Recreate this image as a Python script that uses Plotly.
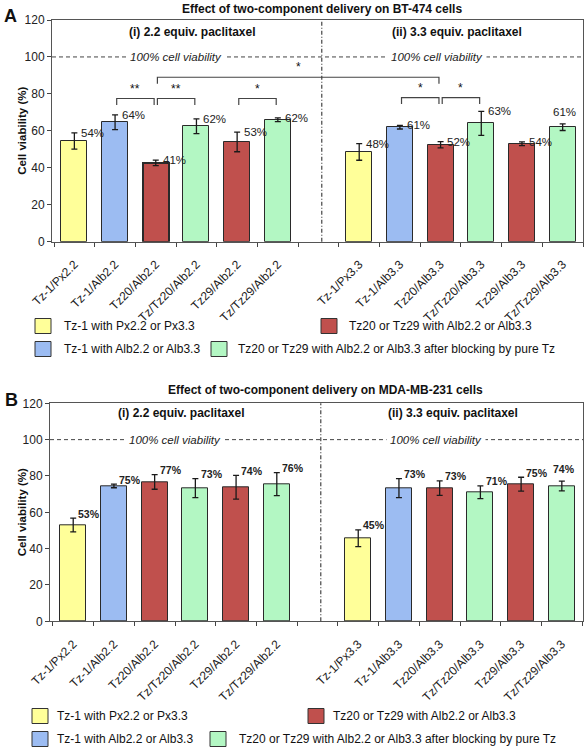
import plotly.graph_objects as go

# ---------------- data ----------------
categories = ["Tz-1/Px2.2", "Tz-1/Alb2.2", "Tz20/Alb2.2", "Tz/Tz20/Alb2.2", "Tz29/Alb2.2", "Tz/Tz29/Alb2.2",
              "Tz-1/Px3.3", "Tz-1/Alb3.3", "Tz20/Alb3.3", "Tz/Tz20/Alb3.3", "Tz29/Alb3.3", "Tz/Tz29/Alb3.3"]
group_of_bar = [0, 1, 2, 3, 2, 3, 0, 1, 2, 3, 2, 3]

values_A = [54.5, 64.7, 42.7, 62.5, 54.0, 66.0, 48.6, 62.0, 52.5, 64.0, 53.0, 62.0]
errors_A = [4.4, 4.0, 1.5, 4.0, 5.3, 1.0, 4.5, 1.0, 1.7, 6.5, 1.0, 1.8]
labels_A = ["54%", "64%", "41%", "62%", "53%", "62%", "48%", "61%", "52%", "63%", "54%", "61%"]

values_B = [53.0, 74.5, 76.7, 73.3, 73.8, 75.5, 45.7, 73.3, 73.3, 71.0, 75.5, 74.5]
errors_B = [3.8, 1.0, 4.0, 5.2, 6.5, 6.3, 4.6, 5.2, 4.0, 3.5, 3.8, 2.7]
labels_B = ["53%", "75%", "77%", "73%", "74%", "76%", "45%", "73%", "73%", "71%", "75%", "74%"]

# significance comparisons (bar index i, bar index j, bracket level, mark)
sig_A = [(1, 2, 77.5, "**"), (2, 3, 77.5, "**"), (4, 5, 77.5, "*"),
         (2, 8, 89.0, "*"), (7, 8, 78.0, "*"), (8, 9, 78.0, "*")]

legend_names = ["Tz-1 with Px2.2 or Px3.3", "Tz-1 with Alb2.2 or Alb3.3",
                "Tz20 or Tz29 with Alb2.2 or Alb3.3",
                "Tz20 or Tz29 with Alb2.2 or Alb3.3 after blocking by pure Tz"]
group_colors = ["#FFFF99", "#9CBCF2", "#C0504D", "#B3F7C3"]

y_ticks = [0, 20, 40, 60, 80, 100, 120]

title_A = "Effect of two-component delivery on BT-474 cells"
title_B = "Effect of two-component delivery on MDA-MB-231 cells"
sub_left = "(i) 2.2 equiv. paclitaxel"
sub_right = "(ii) 3.3 equiv. paclitaxel"
ref_text = "100% cell viability"

# ---------------- helpers ----------------
W, H = 586, 750
FONT = "Liberation Sans, Arial, sans-serif"


def px(x):
    return x / W


def py(y):
    return 1 - y / H


slots = [i if i < 6 else i + 1 for i in range(len(categories))]
colors = [group_colors[g] for g in group_of_bar]

fig = go.Figure()

panels = [
    dict(vals=values_A, errs=errors_A, labels=labels_A, xa="x", ya="y",
         xdom=[px(52), px(583)], ydom=[py(241.7), py(20)], xr=[-0.55, 12.5],
         lw=[1, 1, 2, 1, 1, 1, 1, 1, 1, 1, 1, 1], lblfont=dict(size=11.5, color="#222"),
         lbl_dx=0.12, lbl_dy=0.0, title=title_A, title_xy=(322, 9), letter="A", letter_xy=(10, 16),
         sub_y=113.5, sub_x=(2.9, 9.4), legend_rows=(326, 349),
         leg_box=[(35, 0), (35, 1), (321, 0), (211, 1)], leg_text=[62, 62, 347, 236]),
    dict(vals=values_B, errs=errors_B, labels=labels_B, xa="x2", ya="y2",
         xdom=[px(50), px(583)], ydom=[py(621.3), py(403.3)], xr=[-0.57, 12.52],
         lw=[1] * 12, lblfont=dict(size=10.5, color="#222", weight="bold"),
         lbl_dx=0.08, lbl_dy=2.5, title=title_B, title_xy=(326, 390), letter="B", letter_xy=(11, 400),
         sub_y=114.5, sub_x=(2.65, 9.33), legend_rows=(716, 739),
         leg_box=[(32, 0), (32, 1), (308, 0), (210, 1)], leg_text=[55, 55, 331, 237]),
]

annotations = []
shapes = []
layout_axes = {}
last = len(categories) - 1

for k, p in enumerate(panels):
    fig.add_trace(go.Bar(
        x=slots, y=p["vals"], width=0.64, xaxis=p["xa"], yaxis=p["ya"],
        marker=dict(color=colors, line=dict(color="#2a2a2a", width=p["lw"])),
        error_y=dict(type="data", array=p["errs"], color="#1a1a1a", thickness=1.3, width=3),
        showlegend=False, hoverinfo="skip"))

    xname = "xaxis" if k == 0 else "xaxis2"
    yname = "yaxis" if k == 0 else "yaxis2"
    layout_axes[xname] = dict(
        domain=p["xdom"], range=p["xr"], anchor=p["ya"], automargin=False,
        tickmode="array", tickvals=slots, ticktext=categories, tickangle=-45,
        ticks="", ticklabelstandoff=10, tickfont=dict(size=12, color="#222", family=FONT),
        showline=True, linecolor="#555", linewidth=1, mirror=True,
        showgrid=False, zeroline=False, fixedrange=True,
        minor=dict(tickmode="array", tickvals=[b - 0.5 for b in range(14)],
                   ticks="outside", ticklen=4, tickcolor="#444", tickwidth=1),
    )
    layout_axes[yname] = dict(
        domain=p["ydom"], range=[0, 120], anchor=p["xa"], automargin=False,
        tickmode="array", tickvals=y_ticks, ticks="outside", ticklen=4, tickcolor="#444",
        tickfont=dict(size=12, color="#222", family=FONT),
        showline=True, linecolor="#555", linewidth=1, mirror=True,
        showgrid=False, zeroline=False, fixedrange=True,
    )

    # value labels (the last bar's label sits above its error bar, as in the original)
    for i, (v, e, t) in enumerate(zip(p["vals"], p["errs"], p["labels"])):
        if i == last:
            ann = dict(x=slots[i] + 0.05, y=v + e + 2, xanchor="center", yanchor="bottom")
        else:
            ann = dict(x=slots[i] + p["lbl_dx"], y=v + e + p["lbl_dy"], xanchor="left", yanchor="middle")
        annotations.append(dict(xref=p["xa"], yref=p["ya"], text=t, showarrow=False,
                                font=dict(family=FONT, **p["lblfont"]), **ann))

    # 100% reference line
    shapes.append(dict(type="line", xref=p["xa"] + " domain", yref=p["ya"], x0=0, x1=1, y0=100, y1=100,
                       line=dict(color="#444", width=1, dash="4px,3px")))
    # divider
    shapes.append(dict(type="line", xref=p["xa"], yref=p["ya"] + " domain", x0=6.08, x1=6.08, y0=0, y1=1,
                       line=dict(color="#444", width=1.2, dash="4px,2px,1px,2px")))
    for xs in (2.5, 8.9):
        annotations.append(dict(x=xs, y=100, xref=p["xa"], yref=p["ya"], text="<i>" + ref_text + "</i>",
                                showarrow=False, bgcolor="white", borderpad=3,
                                xanchor="center", yanchor="middle",
                                font=dict(family=FONT, size=11.5, color="#222")))
    # subtitles
    for xs, t in zip(p["sub_x"], (sub_left, sub_right)):
        annotations.append(dict(x=xs, y=p["sub_y"], xref=p["xa"], yref=p["ya"], text="<b>" + t + "</b>",
                                showarrow=False, xanchor="center", yanchor="middle",
                                font=dict(family=FONT, size=12, color="#111")))
    # panel title & letter
    annotations.append(dict(x=px(p["title_xy"][0]), y=py(p["title_xy"][1]), xref="paper", yref="paper",
                            text="<b>" + p["title"] + "</b>", showarrow=False,
                            xanchor="center", yanchor="middle",
                            font=dict(family=FONT, size=12, color="#111")))
    annotations.append(dict(x=px(p["letter_xy"][0]), y=py(p["letter_xy"][1]), xref="paper", yref="paper",
                            text="<b>" + p["letter"] + "</b>", showarrow=False,
                            xanchor="center", yanchor="middle",
                            font=dict(family=FONT, size=18, color="#111")))
    # y-axis title
    yc = (p["ydom"][0] + p["ydom"][1]) / 2
    annotations.append(dict(x=px(22), y=yc, xref="paper", yref="paper", text="<b>Cell viability (%)</b>",
                            textangle=-90, showarrow=False, xanchor="center", yanchor="middle",
                            font=dict(family=FONT, size=11.5, color="#111")))
    # legend (swatches + text)
    for gi in range(4):
        bx, row = p["leg_box"][gi]
        cy = p["legend_rows"][row]
        shapes.append(dict(type="rect", xref="paper", yref="paper",
                           x0=px(bx), x1=px(bx + 16), y0=py(cy - 7.5), y1=py(cy + 7.5),
                           fillcolor=group_colors[gi], line=dict(color="#333", width=1)))
        annotations.append(dict(x=px(p["leg_text"][gi]), y=py(cy), xref="paper", yref="paper",
                                text=legend_names[gi], showarrow=False,
                                xanchor="left", yanchor="middle",
                                font=dict(family=FONT, size=12, color="#111")))

# significance brackets (panel A)
for i, j, lev, mark in sig_A:
    x0, x1 = slots[i] + 0.04, slots[j] - 0.04
    leg = 3.5
    shapes.append(dict(type="path", xref="x", yref="y",
                       path=f"M {x0},{lev - leg} L {x0},{lev} L {x1},{lev} L {x1},{lev - leg}",
                       line=dict(color="#444", width=1.2)))
    annotations.append(dict(x=(x0 + x1) / 2, y=lev + 0.5, xref="x", yref="y", text=mark,
                            showarrow=False, xanchor="center", yanchor="bottom",
                            font=dict(family=FONT, size=12, color="#111")))

fig.update_layout(
    width=W, height=H, margin=dict(l=0, r=0, t=0, b=0, pad=0, autoexpand=False),
    paper_bgcolor="white", plot_bgcolor="white",
    annotations=annotations, shapes=shapes, bargap=0, **layout_axes,
)

fig.write_html("out.html", config={"displayModeBar": False},
               post_script="document.body.style.margin='0px';document.body.style.padding='0px';")
